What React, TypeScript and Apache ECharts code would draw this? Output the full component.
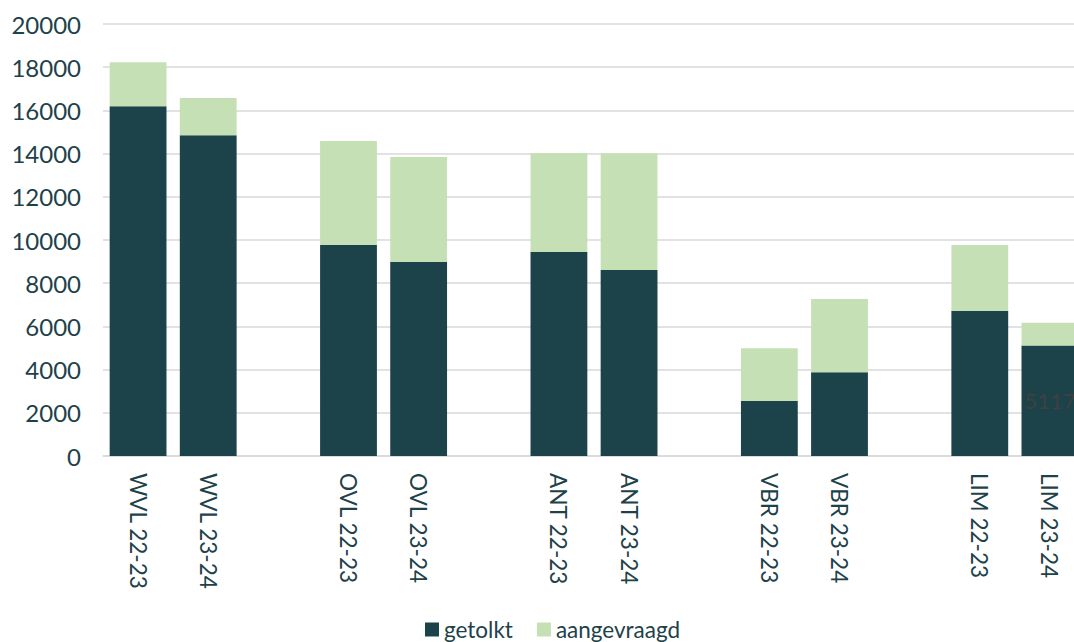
import React, { useEffect, useRef } from "react";
import * as echarts from "echarts";

const categories = [
  "WVL 22-23", "WVL 23-24", "",
  "OVL 22-23", "OVL 23-24", "",
  "ANT 22-23", "ANT 23-24", "",
  "VBR 22-23", "VBR 23-24", "",
  "LIM 22-23", "LIM 23-24",
];

const getolkt: (number | null)[] = [
  16188, 14846, null,
  9768, 8981, null,
  9444, 8611, null,
  2546, 3875, null,
  6713, 5117,
];

const aangevraagd: (number | null)[] = [
  2037, 1728, null,
  4815, 4862, null,
  4586, 5409, null,
  2440, 3394, null,
  3056, 1056,
];

const labelledIndex = 13;

const DARK = "#1c424a";
const LIGHT = "#c5e0b4";
const TEXT = "#1d424a";
const FONT = "Lato, 'Noto Sans', sans-serif";

export default function App() {
  const ref = useRef<HTMLDivElement>(null);
  useEffect(() => {
    if (!ref.current) return;
    const chart = echarts.init(ref.current, undefined, { renderer: "svg" });
    chart.setOption({
      animation: false,
      textStyle: { fontFamily: FONT },
      grid: { left: 103, top: 24, width: 982, height: 432, containLabel: false },
      legend: {
        left: 420,
        top: 613,
        itemWidth: 14,
        itemHeight: 14,
        itemGap: 24,
        icon: "rect",
        textStyle: { fontSize: 22.5, lineHeight: 22, color: TEXT, fontFamily: FONT },
        data: ["getolkt", "aangevraagd"],
      },
      xAxis: {
        type: "category",
        data: categories,
        axisLine: { show: true, lineStyle: { color: "#d9d9d9", width: 1.5 } },
        axisTick: { show: false },
        axisLabel: {
          rotate: -90,
          interval: 0,
          margin: 17,
          fontSize: 22.5,
          color: TEXT,
          fontFamily: FONT,
        },
      },
      yAxis: {
        type: "value",
        min: 0,
        max: 20000,
        interval: 2000,
        axisLine: { show: false },
        axisTick: { show: false },
        splitLine: { lineStyle: { color: "#d9d9d9", width: 1.5 } },
        axisLabel: {
          fontSize: 24,
          color: TEXT,
          margin: 22,
          fontFamily: FONT,
          formatter: (v: number) => String(v),
        },
      },
      series: [
        {
          name: "getolkt",
          type: "bar",
          stack: "total",
          barCategoryGap: "19%",
          itemStyle: { color: DARK },
          data: getolkt.map((v, i) =>
            i === labelledIndex
              ? {
                  value: v,
                  label: {
                    show: true,
                    position: "inside",
                    color: "#404040",
                    fontSize: 22,
                    fontFamily: FONT,
                  },
                }
              : v
          ),
        },
        {
          name: "aangevraagd",
          type: "bar",
          stack: "total",
          barCategoryGap: "19%",
          itemStyle: { color: LIGHT },
          data: aangevraagd,
        },
      ],
    });
    return () => chart.dispose();
  }, []);
  return (
    <div
      style={{ position: "absolute", left: 0, top: 0, width: 1074, height: 642, overflow: "hidden", background: "#fff" }}
    >
      <div ref={ref} style={{ width: 1100, height: 642 }} />
    </div>
  );
}
